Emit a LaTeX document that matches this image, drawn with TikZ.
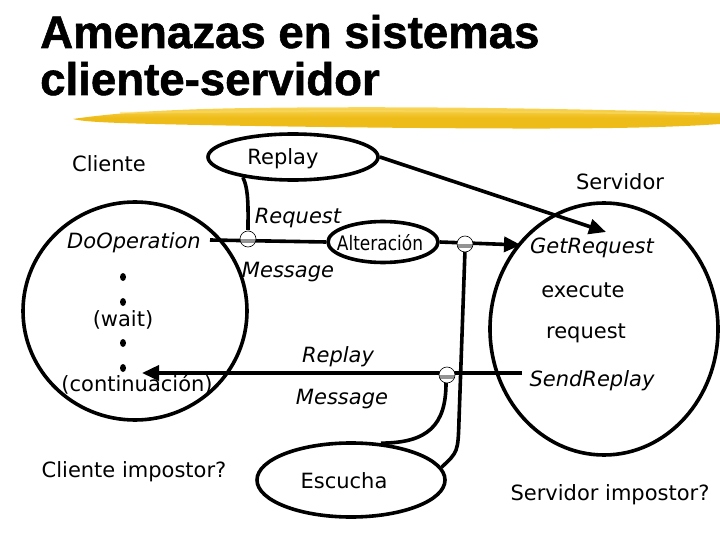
\documentclass[tikz,border=0pt]{standalone}
\usepackage{fontspec}
\setmainfont{DejaVu Sans}
\newfontfamily\titlefont[FakeBold=1.2]{Liberation Sans Bold}
\usetikzlibrary{arrows.meta,shapes.geometric}
\definecolor{brushY}{RGB}{238,188,25}
\definecolor{brushL}{RGB}{250,218,100}
\begin{document}
\begin{tikzpicture}[x=1pt,y=-1pt,
  heavy/.style={line width=3.6pt},
  lbl/.style={font=\fontsize{21}{24}\selectfont, anchor=base, inner sep=0pt},
  ilbl/.style={font=\fontsize{21}{24}\selectfont\itshape, anchor=base, inner sep=0pt},
  ttl/.style={font=\fontsize{45.6}{50}\selectfont\titlefont, anchor=base west, inner sep=0pt},
  oval/.style={ellipse, draw, heavy, inner sep=0pt},
  arr/.style={heavy, -{Triangle[length=17pt,width=15pt]}},
  junction/.style={circle, draw, line width=0.6pt, fill=white, minimum size=16pt, inner sep=0pt,
    path picture={\fill[gray!85] ([yshift=-3.5pt]path picture bounding box.east) rectangle (path picture bounding box.west);}},
  dotm/.style={ellipse, fill=black, minimum width=6pt, minimum height=8pt, inner sep=0pt}
]
\useasboundingbox (0,0) rectangle (720,540);
% title
\node[ttl] (t1) at (40,48) {Amenazas en sistemas};
\node[ttl] (t2) at (40,95) {cliente-servidor};
% brush stroke
\shade[top color=brushL, bottom color=brushY, middle color=brushY]
  (73,119) .. controls (120,112) and (180,109) .. (250,108)
  .. controls (400,106) and (550,108) .. (720,113)
  -- (720,124) .. controls (650,129) and (550,129) .. (420,128)
  .. controls (300,127) and (180,125) .. (120,123)
  .. controls (95,122) and (80,121) .. (73,119) -- cycle;
\fill[brushL, opacity=0.6] (120,112) .. controls (300,109) and (500,110) .. (700,113) -- (700,115) .. controls (500,112) and (300,111) .. (120,114) -- cycle;

% big shapes
\node[ellipse, draw, heavy, minimum width=224pt, minimum height=218pt] (cli) at (135,311) {};
\node[ellipse, draw, heavy, minimum width=228pt, minimum height=252pt] (srv) at (604,329) {};
\node[oval, minimum width=170pt, minimum height=46pt] (replayE) at (293,157) {};
\node[oval, minimum width=110pt, minimum height=41pt] (alterE) at (383,242) {};
\node[oval, minimum width=188pt, minimum height=74pt] (escE) at (351,480) {};

% coordinates for free ends
\coordinate (dstart) at (210,240);
\coordinate (gtip) at (521,245);
\coordinate (rtip) at (606,232);
\coordinate (sstart) at (522,373);
\coordinate (ctip) at (142,373);
\coordinate (vbend) at (459,420);

% connectors
\draw[heavy] (dstart) -- (alterE.west);
\draw[arr] (alterE.east) -- (gtip);
\draw[arr] (replayE.east) -- (rtip);
\draw[arr] (sstart) -- (ctip);
\draw[heavy] (replayE.202) .. controls (249,190) and (248,210) .. (248,230);
\draw[heavy] (465,250) -- (vbend) .. controls (458,452) .. (escE.8);
\draw[heavy] (446,383) .. controls (446,425) and (428,443) .. (escE.51);

% junctions
\node[junction] (j1) at (248,239) {};
\node[junction] (j2) at (465,244) {};
\node[junction] (j3) at (447,375) {};

% dots
\node[dotm] (d1) at (123,277) {};
\node[dotm] (d2) at (123,302) {};
\node[dotm] (d3) at (123,343) {};
\node[dotm] (d4) at (123,368) {};

% labels
\node[lbl] (lcli) at (109,172) {Cliente};
\node[lbl] (lrep) at (283,165) {Replay};
\node[lbl] (lsrv) at (620,190) {Servidor};
\node[ilbl] (lreq) at (298,223) {Request};
\node[ilbl] (ldo) at (134,248) {DoOperation};
\node[lbl, font=\fontsize{20}{22}\selectfont] (lalt) at (380,250) {\scalebox{0.85}[1]{Alteración}};
\node[ilbl] (lmsg1) at (288,277) {Message};
\node[ilbl] (lget) at (592,254) {GetRequest};
\node[lbl] (lexe) at (583,297) {execute};
\node[lbl] (lreq2) at (586,338) {request};
\node[lbl] (lwait) at (123,326) {(wait)};
\node[lbl] (lcont) at (137,391) {(continuación)};
\node[ilbl] (lrep2) at (338,362) {Replay};
\node[ilbl] (lmsg2) at (342,404) {Message};
\node[ilbl] (lsend) at (592,386) {SendReplay};
\node[lbl] (lcimp) at (134,477) {Cliente impostor?};
\node[lbl] (lesc) at (344,488) {Escucha};
\node[lbl] (lsimp) at (610,500) {Servidor impostor?};
\end{tikzpicture}
\end{document}
